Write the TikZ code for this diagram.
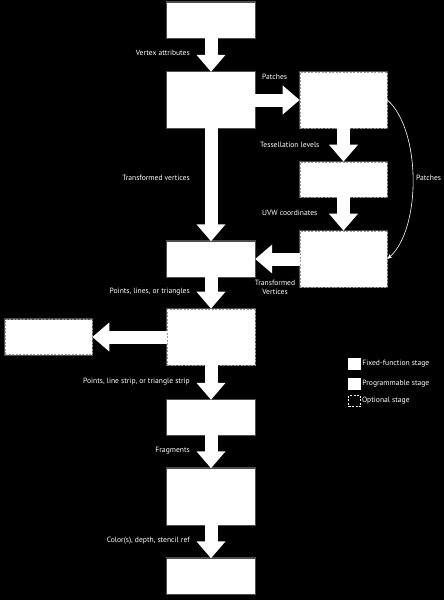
\documentclass[tikz,border=0pt]{standalone}
\usepackage{fontspec}
\setsansfont{PT Sans}
\usetikzlibrary{arrows.meta}
\definecolor{plbg}{HTML}{000000}
\definecolor{plbox}{HTML}{FFFFFF}
\definecolor{pldash}{HTML}{9A9A9A}

\begin{document}
\begin{tikzpicture}[x=1pt, y=-1pt, font=\sffamily\fontsize{7.6}{9}\selectfont, text=white,
    stage/.style={fill=plbox, draw=none, inner sep=0pt, minimum width=88pt,
      preaction={draw=white, solid, line width=2.4pt, opacity=0.3}},
    tall/.style={minimum height=56pt},
    short/.style={minimum height=35pt},
    optional/.style={draw=pldash, line width=0.7pt, dash pattern=on 2pt off 1.5pt},
    flow/.style={draw=plbox, line width=13pt, -{Triangle[length=17pt, width=28pt]}},
    curve/.style={draw=plbox, line width=0.6pt, -{Stealth[length=5pt, width=4pt]}},
    lbl/.style={inner sep=1pt},
    key/.style={fill=plbox, inner sep=0pt, minimum width=13pt, minimum height=12pt},
  ]
  % black page, fixes the bounding box
  \fill[plbg] (0, 0) rectangle (444, 600);

  % main column
  \node[stage, short] (vspec) at (211, 20) {};
  \node[stage, tall] (vshader) at (211, 100) {};
  \node[stage, short] (vpost) at (211, 259) {};
  \node[stage, tall, optional] (geom) at (211, 337) {};
  \node[stage, short] (raster) at (211, 417.5) {};
  \node[stage, tall] (frag) at (211, 496.5) {};
  \node[stage, short] (persample) at (211, 576) {};

  % tessellation column
  \node[stage, tall, optional, minimum width=87pt] (tcs) at (343.5, 100) {};
  \node[stage, short, optional, minimum width=87pt] (tgen) at (343.5, 179.5) {};
  \node[stage, tall, optional, minimum width=87pt] (tes) at (343.5, 259) {};

  % transform feedback
  \node[stage, short, optional, minimum width=87pt] (feedback) at (48.5, 337) {};

  % block arrows between stages
  \foreach \from/\to in {vspec/vshader, vshader/tcs, vshader/vpost, tcs/tgen, tgen/tes,
      tes/vpost, vpost/geom, geom/feedback, geom/raster, raster/frag, frag/persample} {
    \draw[flow] (\from) -- (\to);
  }

  % patches may skip straight to evaluation
  \draw[curve] (tcs.east) .. controls +(34, 30) and +(34, -30) .. (tes.east);

  % arrow labels
  \node[lbl, anchor=east] (l-attr) at (191, 53) {Vertex attributes};
  \node[lbl, anchor=west] (l-patch) at (261, 77) {Patches};
  \node[lbl, anchor=west] (l-levels) at (259, 145) {Tessellation levels};
  \node[lbl, anchor=east] (l-trans) at (191, 178) {Transformed vertices};
  \node[lbl, anchor=west] (l-uvw) at (261, 213) {UVW coordinates};
  \node[lbl, align=center] (l-transv) at (275, 287) {Transformed\\Vertices};
  \node[lbl, anchor=east] (l-prims) at (191, 292) {Points, lines, or triangles};
  \node[lbl, anchor=east] (l-strips) at (191, 382) {Points, line strip, or triangle strip};
  \node[lbl, anchor=east] (l-frags) at (191, 451) {Fragments};
  \node[lbl, anchor=east] (l-color) at (191, 541) {Color(s), depth, stencil ref};
  \node[lbl, anchor=west] (l-skip) at (415, 178) {Patches};

  % legend
  \node[key] (k-fixed) at (354.5, 364) {};
  \node[key] (k-prog) at (354.5, 383.5) {};
  \node[key, fill=none, draw=plbox, line width=0.6pt, dash pattern=on 2pt off 1.5pt,
    minimum width=12pt, minimum height=11pt] (k-opt) at (354.5, 401) {};
  \node[lbl, anchor=west] (t-fixed) at (k-fixed.east) {Fixed-function stage};
  \node[lbl, anchor=west] (t-prog) at (k-prog.east) {Programmable stage};
  \node[lbl, anchor=west] (t-opt) at (k-opt.east) {Optional stage};
\end{tikzpicture}
\end{document}
